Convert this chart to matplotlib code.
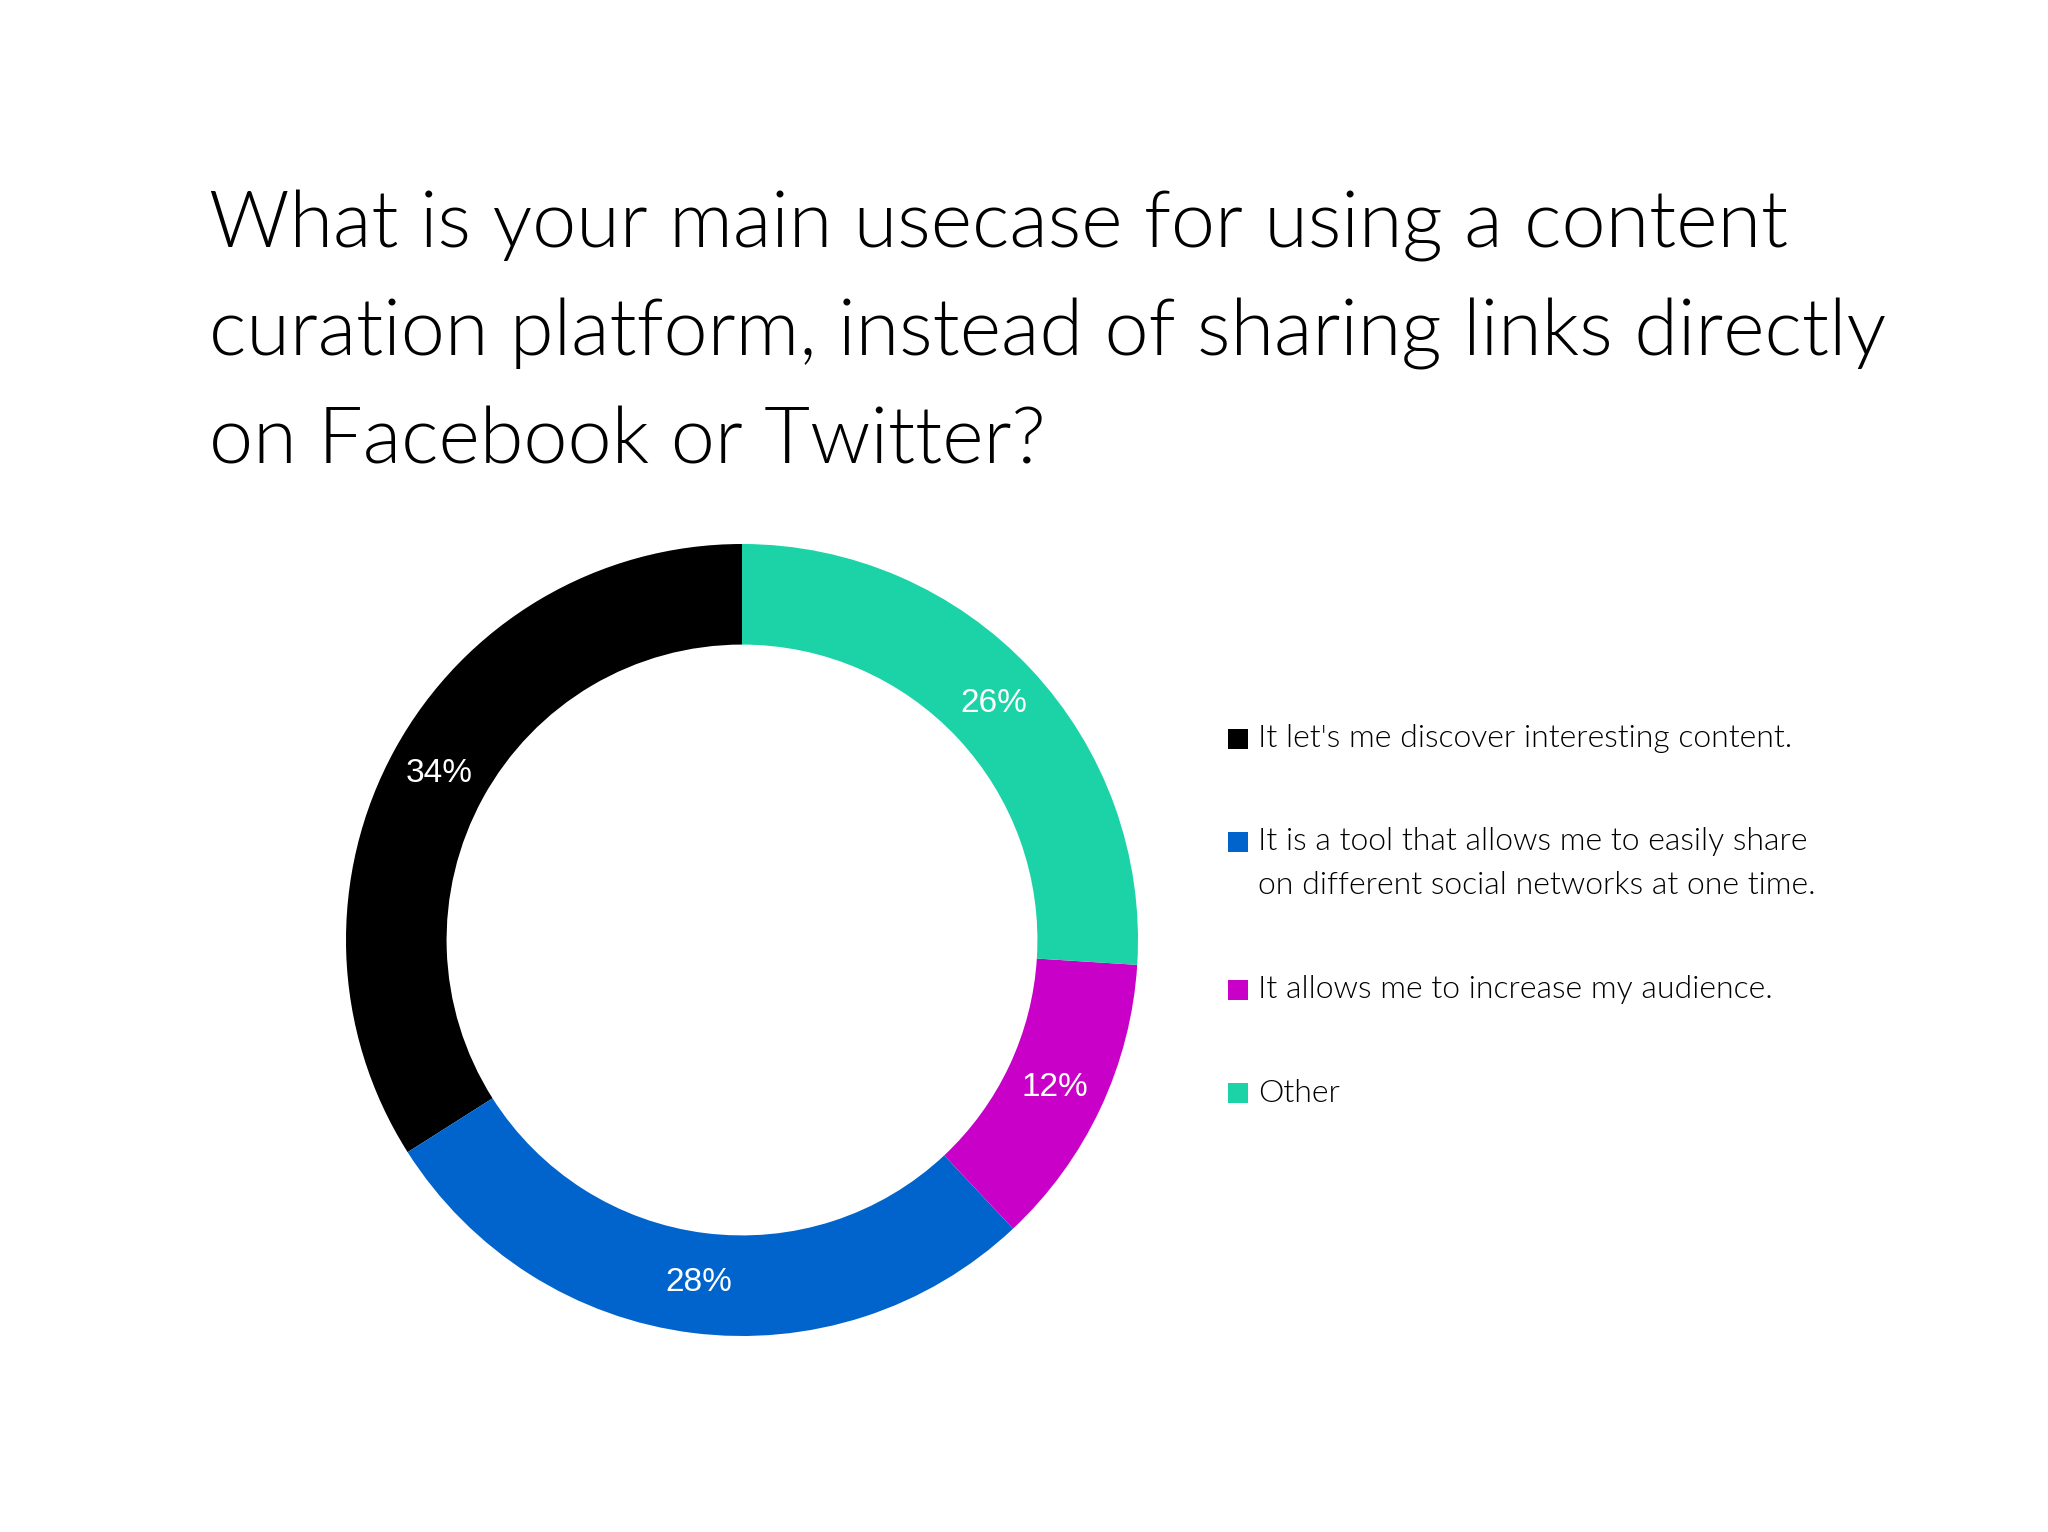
import matplotlib.pyplot as plt
from matplotlib.patches import Rectangle

labels = ["It let's me discover interesting content.",
          "It is a tool that allows me to easily share\non different social networks at one time.",
          "It allows me to increase my audience.",
          "Other"]
shares = [34, 28, 12, 26]
colors = ['#000000', '#0064CC', '#C800C8', '#1BD3A6']

title = ("What is your main usecase for using a content\n"
         "curation platform, instead of sharing links directly\n"
         "on Facebook or Twitter?")

W, H = 2048, 1532
fig = plt.figure(figsize=(W / 100, H / 100), dpi=100)
fig.patch.set_facecolor('white')

font = ['Lato', 'DejaVu Sans']

for i, line in enumerate(title.split('\n')):
    fig.text(209 / W, 1 - (248 + 108 * i) / H, line, ha='left', va='baseline',
             fontsize=57, color='black', family=font, weight=300)

# donut
cx, cy, r = 742, 940, 396
ax = fig.add_axes([(cx - r) / W, (H - cy - r) / H, 2 * r / W, 2 * r / H])
wedges, _, autotexts = ax.pie(shares, colors=colors, startangle=90, counterclock=True,
                              radius=1, autopct='%d%%', pctdistance=0.873,
                              wedgeprops=dict(width=0.254, linewidth=0),
                              textprops=dict(color='white', fontsize=24,
                                             family='Liberation Sans'))
ax.set_xlim(-1, 1)
ax.set_ylim(-1, 1)
ax.axis('off')

# legend, drawn by hand so the swatch sits on the first line of each entry
y = 739
for lab, col in zip(labels, colors):
    fig.add_artist(Rectangle((1228 / W, 1 - (y + 10) / H), 20 / W, 20 / H,
                             transform=fig.transFigure, color=col, lw=0))
    lines = lab.split('\n')
    for i, line in enumerate(lines):
        fig.text(1258 / W, 1 - (y + 44 * i) / H, line, ha='left', va='center',
                 fontsize=23, color='black', family=font, weight=300)
    y += 103 + 45 * (len(lines) - 1)

fig.savefig('out.png', dpi=100, facecolor='white')
